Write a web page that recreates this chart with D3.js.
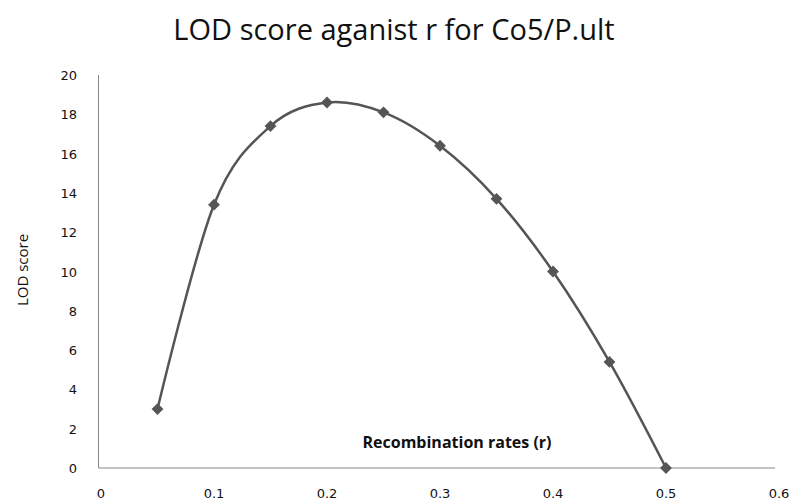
<!DOCTYPE html>
<html><head><meta charset="utf-8">
<script src="https://cdn.jsdelivr.net/npm/d3@7"></script>
<style>body{margin:0;background:#fff}</style>
</head><body>
<svg id="chart" width="790" height="501"></svg>
<script>
var rates=[0.05,0.1,0.15,0.2,0.25,0.3,0.35,0.4,0.45,0.5];
var lodScores=[3.0,13.4,17.4,18.6,18.1,16.4,13.7,10.0,5.4,0];
var xTicks=[0,0.1,0.2,0.3,0.4,0.5,0.6];
var yTicks=[0,2,4,6,8,10,12,14,16,18,20];

var svg=d3.select("#chart");
var x=d3.scaleLinear().domain([0,0.6]).range([101,779]);
var y=d3.scaleLinear().domain([0,20]).range([468,75]);
var font="Verdana, 'DejaVu Sans', sans-serif";

svg.append("text").attr("x",394).attr("y",40).attr("text-anchor","middle")
  .attr("font-family","'Open Sans', Calibri, sans-serif").attr("font-size",29).attr("fill","#111")
  .text("LOD score aganist r for Co5/P.ult");

svg.append("line").attr("x1",98.5).attr("x2",98.5).attr("y1",75).attr("y2",468).attr("stroke","#888");
svg.append("line").attr("x1",98.5).attr("x2",775).attr("y1",468).attr("y2",468).attr("stroke","#888");

svg.selectAll(".xt").data(xTicks).enter().append("text")
  .attr("x",d=>x(d)).attr("y",498).attr("text-anchor","middle")
  .attr("font-family",font).attr("font-size",13).attr("fill","#111").text(d=>d);
svg.selectAll(".yt").data(yTicks).enter().append("text")
  .attr("x",77).attr("y",d=>y(d)+5).attr("text-anchor","end")
  .attr("font-family",font).attr("font-size",13).attr("fill","#111").text(d=>d);

svg.append("text").attr("transform","translate(28,270) rotate(-90)").attr("text-anchor","middle")
  .attr("font-family","'Open Sans', sans-serif").attr("font-size",15).attr("fill","#111").text("LOD score");
svg.append("text").attr("x",457).attr("y",448).attr("text-anchor","middle")
  .attr("font-family","'Open Sans', sans-serif").attr("font-weight","bold").attr("font-size",16).attr("fill","#111")
  .text("Recombination rates (r)");

var pts=rates.map((r,i)=>[r,lodScores[i]]);
var line=d3.line().x(d=>x(d[0])).y(d=>y(d[1])).curve(d3.curveCardinal.tension(0));
svg.append("path").attr("d",line(pts)).attr("fill","none").attr("stroke","#555").attr("stroke-width",2.5);

svg.selectAll(".pt").data(pts).enter().append("path")
  .attr("d",d3.symbol().type(d3.symbolSquare).size(70))
  .attr("transform",d=>"translate("+x(d[0])+","+y(d[1])+") rotate(45)")
  .attr("fill","#555");
</script>
</body></html>
